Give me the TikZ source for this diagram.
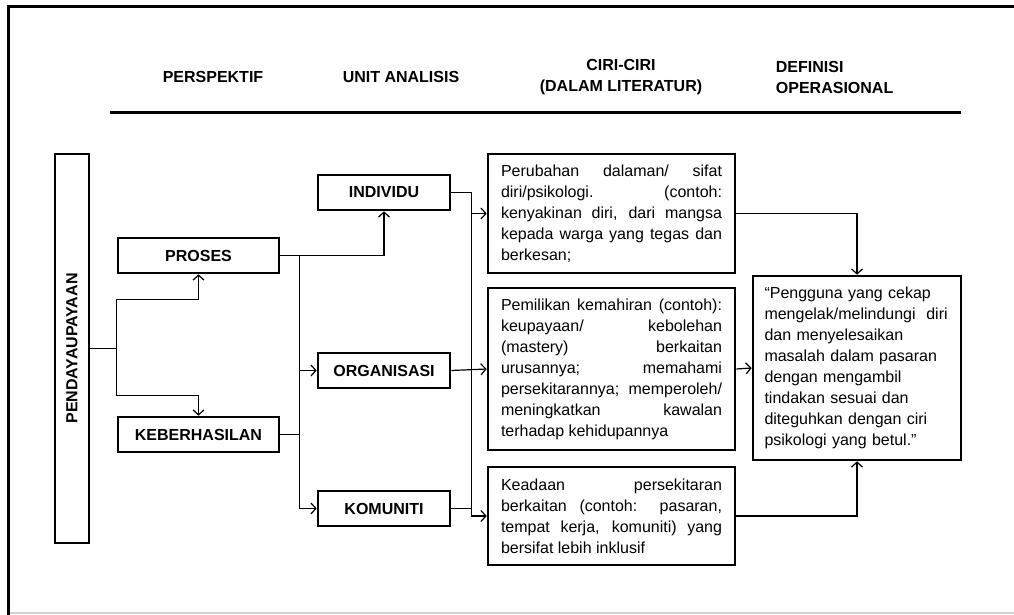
\documentclass[tikz,border=0pt]{standalone}
\usepackage{fontspec}
\setmainfont{Liberation Sans}
\usetikzlibrary{arrows.meta}
\tolerance=10000
\hbadness=10000
\hyphenpenalty=10000

\begin{document}
\begin{tikzpicture}
[ x=1pt, y=-1pt, line width=1.2pt, >={Straight Barb[length=5pt,width=11pt]}
, heading/.style={font=\bfseries\fontsize{16}{21}\selectfont, align=center}
, pillar/.style={rectangle, draw, line width=2.6pt, minimum width=389pt, minimum height=34pt, inner sep=0pt, rotate=90, font=\bfseries\fontsize{16}{21}\selectfont}
, unitbox/.style={rectangle, draw, line width=2.6pt, minimum height=35pt, inner sep=0pt, font=\bfseries\fontsize{16}{21}\selectfont}
, notebox/.style={rectangle, draw, line width=2.6pt, inner xsep=13pt, inner ysep=0pt, text width=221pt, align=justify, font=\fontsize{16}{21}\selectfont}
, defbox/.style={rectangle, draw, line width=2.6pt, inner xsep=11.5pt, inner ysep=0pt, minimum height=184pt, text width=185pt, align=left, font=\fontsize{16}{21}\selectfont}
, rule/.style={line width=3pt}
]
\useasboundingbox (0,0) rectangle (1014,615);
% Frame:
\draw [gray!35, line width=1.2pt] (8,613) -- (1014,613);
\draw [line width=3pt] (8,615) -- (8,7) -- (1014,7);
% Headings:
\node (hpersp) [heading] at (213,77) {PERSPEKTIF};
\node (hunit) [heading] at (401,77) {UNIT ANALISIS};
\node (hciri) [heading] at (621,77.5) {CIRI-CIRI\\(DALAM LITERATUR)};
\node (hdef) [heading, align=left, anchor=west] at (772,77.5) {DEFINISI\\OPERASIONAL};
\draw [rule] (110,113) -- (961,113);
% Boxes:
\node (pend) [pillar] at (72,348.5) {PENDAYAUPAYAAN};
\node (proses) [unitbox, minimum width=161pt] at (198.5,255.5) {PROSES};
\node (hasil) [unitbox, minimum width=161pt] at (198.5,434.5) {KEBERHASILAN};
\node (indiv) [unitbox, minimum width=132pt] at (384,192.5) {INDIVIDU};
\node (organ) [unitbox, minimum width=132pt] at (384,370.5) {ORGANISASI};
\node (komun) [unitbox, minimum width=132pt] at (384,508.5) {KOMUNITI};
\node (ciri1) [notebox, minimum height=119pt] at (611.5,213.5)
  {Perubahan dalaman/ sifat\linebreak diri/psikologi. (contoh:\linebreak kenyakinan diri, dari mangsa\linebreak kepada warga yang tegas dan\linebreak berkesan;};
\node (ciri2) [notebox, minimum height=162pt] at (611.5,369)
  {Pemilikan kemahiran (contoh):\linebreak keupayaan/ kebolehan\linebreak (mastery) berkaitan\linebreak urusannya; memahami\linebreak persekitarannya; memperoleh/\linebreak meningkatkan kawalan\linebreak terhadap kehidupannya};
\node (ciri3) [notebox, minimum height=98pt] at (611.5,516)
  {Keadaan persekitaran\linebreak berkaitan (contoh: pasaran,\linebreak tempat kerja, komuniti) yang\linebreak bersifat lebih inklusif};
\node (defn) [defbox] at (857,368)
  {“Pengguna yang cekap\\mengelak/melindungi\ \ diri\\dan menyelesaikan\\masalah dalam pasaran\\dengan mengambil\\tindakan sesuai dan\\diteguhkan dengan ciri\\psikologi yang betul.”};
% Connectors:
\coordinate (pj) at (proses.west |- pend.south);
\coordinate (bp) at ([xshift=19pt]proses.east);
\coordinate (bi) at ([xshift=20pt]indiv.east);
\draw (pend.south) -- (pj);
\draw [->] (pj) |- ([yshift=-25pt]proses.south) -- (proses.south);
\draw [->] (pj) |- ([yshift=20pt]hasil.north) -- (hasil.north);
\draw [->] (proses.east) -| (indiv.south);
\draw [->] (bp) |- (komun.west);
\draw [->] (bp |- organ.west) -- (organ.west);
\draw (hasil.east) -- (bp |- hasil.east);
\draw [->] (indiv.east) -- (bi) |- (ciri3.west);
\draw [->] (bi |- ciri1.west) -- (ciri1.west);
\draw [->] (organ.east) -- (ciri2.west);
\draw (komun.east) -- (bi |- komun.east);
\draw [->] (ciri1.east) -| (defn.north);
\draw [->] (ciri2.east) -- (defn.west);
\draw [->] (ciri3.east) -| (defn.south);
\end{tikzpicture}
\end{document}
